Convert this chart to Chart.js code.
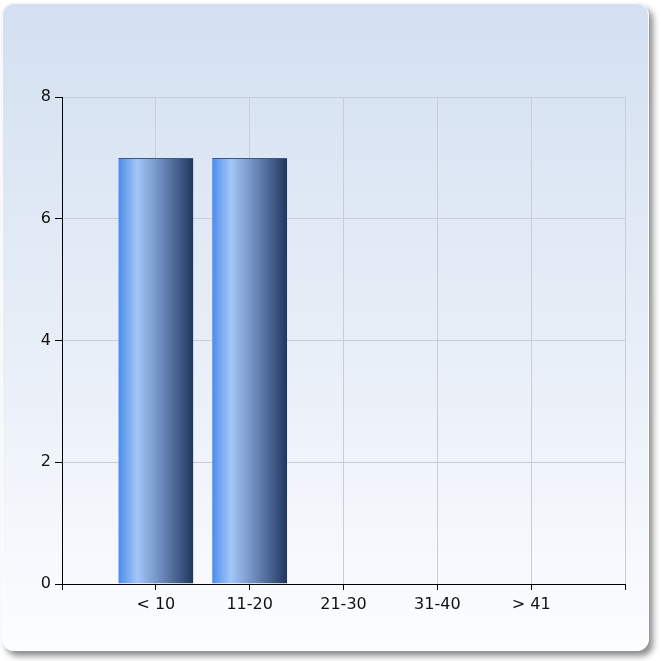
<!DOCTYPE html>
<html>
<head>
<meta charset="utf-8">
<script src="https://cdn.jsdelivr.net/npm/chart.js@4/dist/chart.umd.min.js"></script>
<style>
  html, body { margin: 0; padding: 0; background: #ffffff; }
  #wrap { width: 661px; height: 661px; }
</style>
</head>
<body>
<div id="wrap"><canvas id="chart" width="661" height="661"></canvas></div>
<script>
const categories = ['< 10', '11-20', '21-30', '31-40', '> 41'];
const counts = [7, 7, 0, 0, 0];
const yTicks = [0, 2, 4, 6, 8];

// blank slots at both ends so bars sit on the inner gridlines
const labels = [''].concat(categories, ['']);
const values = [null].concat(counts, [null]);

const panelPlugin = {
  id: 'panel',
  beforeDraw(chart) {
    const ctx = chart.ctx;
    const x = 2, y = 3, w = 647, h = 648, r = 12;
    ctx.save();
    ctx.shadowColor = 'rgba(0,0,0,0.45)';
    ctx.shadowOffsetX = 4;
    ctx.shadowOffsetY = 5;
    ctx.shadowBlur = 6;
    const g = ctx.createLinearGradient(0, y, 0, y + h);
    g.addColorStop(0, '#d3e0f1');
    g.addColorStop(0.55, '#e9eff8');
    g.addColorStop(1, '#fcfdff');
    ctx.fillStyle = g;
    ctx.beginPath();
    ctx.roundRect(x, y, w, h, r);
    ctx.fill();
    ctx.restore();
    ctx.save();
    ctx.strokeStyle = 'rgba(255,255,255,0.8)';
    ctx.lineWidth = 1;
    ctx.beginPath();
    ctx.roundRect(x + 0.5, y + 0.5, w - 1, h - 1, r);
    ctx.stroke();
    ctx.restore();
  }
};

function barFill(c) {
  const chart = c.chart;
  const sx = chart.scales.x;
  if (!chart.chartArea || !sx) return '#5b8fd8';
  const cx = sx.getPixelForValue(c.dataIndex);
  const half = (sx.getPixelForValue(1) - sx.getPixelForValue(0)) * 0.8 / 2;
  const g = chart.ctx.createLinearGradient(cx - half, 0, cx + half, 0);
  g.addColorStop(0, '#4c8ceb');
  g.addColorStop(0.25, '#a4c6f8');
  g.addColorStop(0.55, '#6f8fc0');
  g.addColorStop(1, '#1f375e');
  return g;
}

new Chart(document.getElementById('chart'), {
  type: 'bar',
  data: {
    labels: labels,
    datasets: [{
      data: values,
      backgroundColor: barFill,
      borderColor: '#36598c',
      borderWidth: c => (c.raw > 0 ? { top: 1, left: 0, right: 0, bottom: 0 } : 0),
      borderSkipped: false,
      categoryPercentage: 1,
      barPercentage: 0.8
    }]
  },
  options: {
    responsive: false,
    animation: false,
    devicePixelRatio: 1,
    layout: { padding: { left: 0, top: 97, right: 36, bottom: 37 } },
    plugins: { legend: { display: false }, tooltip: { enabled: false } },
    scales: {
      x: {
        offset: false,
        grid: { offset: false, color: '#c9ced6', tickColor: '#000000', tickLength: 6, lineWidth: 1 },
        border: { color: '#000000', width: 1 },
        ticks: {
          color: '#111111',
          font: { family: 'DejaVu Sans', size: 16 },
          padding: 5,
          maxRotation: 0,
          autoSkip: false
        },
        afterFit(s) { s.height = 40; }
      },
      y: {
        min: 0,
        max: 8,
        afterBuildTicks(s) { s.ticks = yTicks.map(v => ({ value: v })); },
        grid: { color: '#c9ced6', tickColor: '#000000', tickLength: 7, lineWidth: 1 },
        border: { color: '#000000', width: 1 },
        ticks: {
          color: '#111111',
          font: { family: 'DejaVu Sans', size: 16 },
          padding: 4
        },
        afterFit(s) { s.width = 62; }
      }
    }
  },
  plugins: [panelPlugin]
});
</script>
</body>
</html>
